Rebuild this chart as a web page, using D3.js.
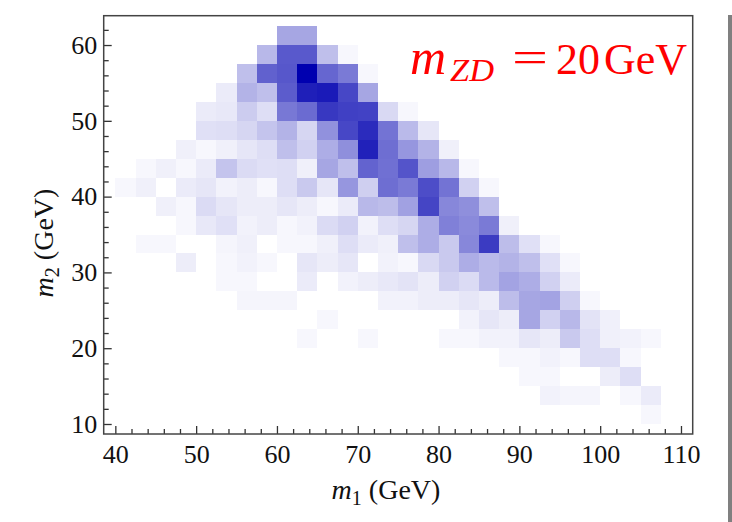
<!DOCTYPE html>
<html>
<head>
<meta charset="utf-8">
<script src="https://cdn.jsdelivr.net/npm/d3@7/dist/d3.min.js"></script>
<style>
  html, body { margin: 0; padding: 0; background: #fff; }
  svg { display: block; }
  text { font-family: "Liberation Serif", "DejaVu Serif", serif; }
</style>
</head>
<body>
<svg id="chart" width="732" height="522"></svg>
<script>
// Bin layout (GeV): 2.5 GeV square bins
const binWidth = 2.5;
const m1Start = 40;          // lower edge of the first m1 column
const m2Rows = [60, 57.5, 55, 52.5, 50, 47.5, 45, 42.5, 40, 37.5, 35,
                32.5, 30, 27.5, 25, 22.5, 20, 17.5, 15, 12.5, 10];

// Relative event density per bin (percent of the peak bin),
// one array per m2 row (top to bottom), columns m1 = 40, 42.5, ..., 107.5
const density = [
  [0,0,0,0,0,0,0,0,35,35,0,0,0,0,0,0,0,0,0,0,0,0,0,0,0,0,0,0],
  [0,0,0,0,0,0,0,28,65,65,25,3,0,0,0,0,0,0,0,0,0,0,0,0,0,0,0,0],
  [0,0,0,0,0,0,25,62,66,100,60,52,3,0,0,0,0,0,0,0,0,0,0,0,0,0,0,0],
  [0,0,0,0,0,8,30,25,64,88,90,72,35,0,0,0,0,0,0,0,0,0,0,0,0,0,0,0],
  [0,0,0,0,8,9,20,13,53,58,78,75,74,15,3,0,0,0,0,0,0,0,0,0,0,0,0,0],
  [0,0,0,0,12,13,16,23,30,16,43,72,83,55,27,10,0,0,0,0,0,0,0,0,0,0,0,0],
  [0,0,0,6,3,6,10,13,25,18,32,44,87,57,41,30,6,0,0,0,0,0,0,0,0,0,0,0],
  [0,3,6,3,8,23,14,12,13,6,35,25,61,56,67,38,28,3,0,0,0,0,0,0,0,0,0,0],
  [3,6,0,8,10,5,7,3,13,21,10,41,19,57,52,70,55,18,3,0,0,0,0,0,0,0,0,0],
  [0,0,6,3,14,10,7,7,10,7,3,8,28,26,37,73,47,44,25,0,0,0,0,0,0,0,0,0],
  [0,0,0,3,9,12,5,7,3,5,14,18,5,13,16,32,50,46,52,6,0,0,0,0,0,0,0,0],
  [0,3,3,0,0,4,6,0,3,3,6,13,8,6,25,32,21,47,77,26,12,3,0,0,0,0,0,0],
  [0,0,0,7,0,3,5,3,0,10,7,10,0,5,3,15,21,32,27,30,25,12,3,0,0,0,0,0],
  [0,0,0,0,0,3,3,0,0,8,0,5,7,9,11,7,18,14,27,36,32,18,8,0,0,0,0,0],
  [0,0,0,0,0,0,4,4,4,0,0,0,0,5,5,7,7,10,7,26,35,36,19,3,0,0,0,0],
  [0,0,0,0,0,0,0,0,0,0,3,0,0,0,0,0,0,5,10,7,35,18,28,11,6,0,0,0],
  [0,0,0,0,0,0,0,0,0,3,0,0,3,0,0,0,3,3,5,5,10,7,21,13,6,5,3,0],
  [0,0,0,0,0,0,0,0,0,0,0,0,0,0,0,0,0,0,0,3,3,5,3,13,13,3,0,0],
  [0,0,0,0,0,0,0,0,0,0,0,0,0,0,0,0,0,0,0,0,3,3,0,0,7,13,0,0],
  [0,0,0,0,0,0,0,0,0,0,0,0,0,0,0,0,0,0,0,0,0,5,4,4,0,3,8,0],
  [0,0,0,0,0,0,0,0,0,0,0,0,0,0,0,0,0,0,0,0,0,0,0,0,0,0,3,0]
];

const xMajorTicks = [40, 50, 60, 70, 80, 90, 100, 110];
const yMajorTicks = [10, 20, 30, 40, 50, 60];

const svg = d3.select("#chart");

// plot frame in pixels
const frame = { left: 103.7, right: 692.7, top: 15.7, bottom: 434 };

const x = d3.scaleLinear().domain([38.56, 111.45]).range([frame.left, frame.right]);
const y = d3.scaleLinear().domain([8.68, 63.87]).range([frame.bottom, frame.top]);

const color = d3.scaleLinear().domain([0, 100])
  .range(["#ffffff", "#0000b0"]).interpolate(d3.interpolateRgb);

// flatten into cells
const cells = [];
density.forEach((row, r) => {
  row.forEach((v, c) => {
    if (v > 0) cells.push({ m1: m1Start + c * binWidth, m2: m2Rows[r], v });
  });
});

svg.append("g")
  .attr("shape-rendering", "crispEdges")
  .selectAll("rect")
  .data(cells)
  .join("rect")
  .attr("x", d => x(d.m1))
  .attr("y", d => y(d.m2 + binWidth))
  .attr("width", d => x(d.m1 + binWidth) - x(d.m1))
  .attr("height", d => y(d.m2) - y(d.m2 + binWidth))
  .attr("fill", d => color(d.v));

// axes: inward ticks, minor every 2 GeV
const xMinor = d3.range(40, 111.45, 2).filter(v => !xMajorTicks.includes(v));
const yMinor = d3.range(10, 63.87, 2).filter(v => !yMajorTicks.includes(v));

const gx = svg.append("g").attr("transform", `translate(0,${frame.bottom})`);
gx.call(d3.axisBottom(x).tickValues(xMinor).tickSize(-5).tickFormat(""));
gx.call(g => g.select(".domain").remove());
const gx2 = svg.append("g").attr("transform", `translate(0,${frame.bottom})`);
gx2.call(d3.axisBottom(x).tickValues(xMajorTicks).tickSize(-8).tickPadding(11)
  .tickFormat(d3.format("d")));
gx2.call(g => g.select(".domain").remove());

const gy = svg.append("g").attr("transform", `translate(${frame.left},0)`);
gy.call(d3.axisLeft(y).tickValues(yMinor).tickSize(-5).tickFormat(""));
gy.call(g => g.select(".domain").remove());
const gy2 = svg.append("g").attr("transform", `translate(${frame.left},0)`);
gy2.call(d3.axisLeft(y).tickValues(yMajorTicks).tickSize(-8).tickPadding(6.5)
  .tickFormat(d3.format("d")));
gy2.call(g => g.select(".domain").remove());

svg.selectAll(".tick line").attr("stroke", "#333").attr("stroke-width", 1.3);
svg.selectAll(".tick text")
  .attr("font-family", "Liberation Serif, serif")
  .attr("font-size", 26)
  .attr("fill", "#111");

// frame
svg.append("rect")
  .attr("x", frame.left).attr("y", frame.top)
  .attr("width", frame.right - frame.left).attr("height", frame.bottom - frame.top)
  .attr("fill", "none").attr("stroke", "#444").attr("stroke-width", 1.5);

// axis titles
const xt = svg.append("text")
  .attr("x", 386).attr("y", 499).attr("text-anchor", "middle")
  .attr("font-size", 28).attr("fill", "#111");
xt.append("tspan").attr("font-style", "italic").text("m");
xt.append("tspan").attr("font-size", 20).attr("dy", 6).text("1");
xt.append("tspan").attr("dy", -6).text(" (GeV)");

const yt = svg.append("text")
  .attr("transform", "translate(53,243) rotate(-90)").attr("text-anchor", "middle")
  .attr("font-size", 28).attr("fill", "#111");
yt.append("tspan").attr("font-style", "italic").text("m");
yt.append("tspan").attr("font-size", 20).attr("dy", 6).text("2");
yt.append("tspan").attr("dy", -6).text(" (GeV)");

// annotation: dark-photon mass
const red = "#ff0000";
svg.append("text").attr("x", 410).attr("y", 74)
  .attr("font-size", 50).attr("font-style", "italic").attr("fill", red).text("m");
svg.append("text").attr("x", 450).attr("y", 81)
  .attr("font-size", 32).attr("font-style", "italic").attr("fill", red)
  .attr("textLength", 44).attr("lengthAdjust", "spacingAndGlyphs").text("ZD");
svg.append("text").attr("x", 512).attr("y", 72)
  .attr("font-size", 44).attr("fill", red)
  .attr("textLength", 36).attr("lengthAdjust", "spacingAndGlyphs").text("=");
svg.append("text").attr("x", 556).attr("y", 74)
  .attr("font-size", 44).attr("fill", red).text("20");
svg.append("text").attr("x", 604).attr("y", 74)
  .attr("font-size", 44).attr("fill", red).text("GeV");

// page edge bar
svg.append("rect").attr("x", 728).attr("y", 15).attr("width", 4).attr("height", 507)
  .attr("fill", "#808080");
</script>
</body>
</html>
